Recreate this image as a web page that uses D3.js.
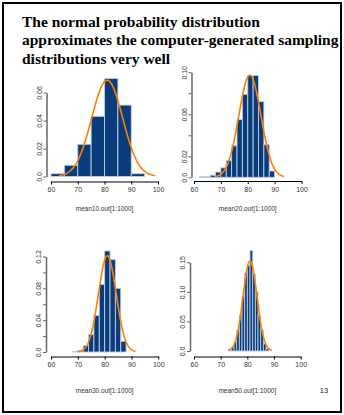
<!DOCTYPE html>
<html>
<head>
<meta charset="utf-8">
<script src="https://cdn.jsdelivr.net/npm/d3@7"></script>
<style>
  body { margin: 0; background: #fff; }
  svg { display: block; }
</style>
</head>
<body>
<svg width="344" height="415"></svg>
<script>
const titleLines = [
  'The normal probability distribution',
  'approximates the computer-generated sampling',
  'distributions very well'
];
const pageNumber = '13';
const xTicks = [60, 70, 80, 90, 100];
const xLabels = ['mean10.out[1:1000]', 'mean20.out[1:1000]', 'mean30.out[1:1000]', 'mean50.out[1:1000]'];

// histogram bin edges and densities
const breaks10 = [60, 65, 70, 75, 80, 85, 90, 95];
const dens10 = [0.002, 0.008, 0.023, 0.043, 0.070, 0.051, 0.002];
const breaks20 = [62, 64, 66, 68, 70, 72, 74, 76, 78, 80, 82, 84, 86, 88, 90];
const dens20 = [0.0005, 0.0005, 0.002, 0.005, 0.009, 0.016, 0.030, 0.055, 0.079, 0.097, 0.097, 0.072, 0.031, 0.006];
const breaks30 = [68, 70, 72, 74, 76, 78, 80, 82, 84, 86, 88];
const dens30 = [0.0005, 0.002, 0.008, 0.022, 0.046, 0.085, 0.127, 0.116, 0.080, 0.0135];
const breaks50 = [73, 74, 75, 76, 77, 78, 79, 80, 81, 82, 83, 84, 85, 86, 87, 88];
const dens50 = [0.002, 0.006, 0.015, 0.035, 0.062, 0.092, 0.132, 0.145, 0.170, 0.130, 0.100, 0.060, 0.035, 0.012, 0.004];

// fitted normal curves (mean, sd, drawn range)
const fitMean = [81, 80.8, 81, 81];
const fitSd = [5.8, 4.1, 3.3, 2.62];
const fitFrom = [63, 68, 70, 72.8];
const fitTo = [99, 93.5, 91.5, 89.2];

// y ticks and the labels R kept
const yTicks10 = [0, 0.02, 0.04, 0.06];
const yLabels10 = ['0.0', '0.02', '0.04', '0.06'];
const yTicks20 = [0, 0.02, 0.04, 0.06, 0.08, 0.10];
const yLabels20 = ['0.0', '0.02', '', '0.06', '', '0.10'];
const yTicks30 = [0, 0.02, 0.04, 0.06, 0.08, 0.10, 0.12];
const yLabels30 = ['0.0', '', '0.04', '', '0.08', '', '0.12'];
const yTicks50 = [0, 0.05, 0.10, 0.15];
const yLabels50 = ['0.0', '0.05', '0.10', '0.15'];

const svg = d3.select('svg');

// slide frame
svg.append('rect')
  .attr('x', 3).attr('y', 3)
  .attr('width', 338).attr('height', 409)
  .attr('fill', 'none').attr('stroke', '#000').attr('stroke-width', 2);

svg.append('g')
  .selectAll('text')
  .data(titleLines)
  .join('text')
  .attr('x', 22)
  .attr('y', (d, i) => 26.5 + i * 18.5)
  .attr('font-family', '"Liberation Serif", "Times New Roman", serif')
  .attr('font-weight', 'bold')
  .attr('font-size', 15.5)
  .text((d) => d);

svg.append('text')
  .attr('x', 324).attr('y', 393)
  .attr('text-anchor', 'middle')
  .attr('font-family', '"Liberation Sans", Arial, sans-serif')
  .attr('font-size', 7.5)
  .attr('fill', '#222')
  .text(pageNumber);

const panels = [
  { breaks: breaks10, dens: dens10, yTicks: yTicks10, yLabels: yLabels10,
    xr: [51, 158], yDom: [0, 0.06], yr: [176.5, 92.5], yAxisX: 46.5, xAxisY: 181.5, labelY: 211 },
  { breaks: breaks20, dens: dens20, yTicks: yTicks20, yLabels: yLabels20,
    xr: [194, 301.5], yDom: [0, 0.10], yr: [177.3, 72.3], yAxisX: 191.5, xAxisY: 181, labelY: 211 },
  { breaks: breaks30, dens: dens30, yTicks: yTicks30, yLabels: yLabels30,
    xr: [51, 158.3], yDom: [0, 0.12], yr: [352, 256.5], yAxisX: 46, xAxisY: 356.5, labelY: 393 },
  { breaks: breaks50, dens: dens50, yTicks: yTicks50, yLabels: yLabels50,
    xr: [194, 300.7], yDom: [0, 0.15], yr: [351, 262.3], yAxisX: 190, xAxisY: 356.5, labelY: 393 }
];

panels.forEach((p, k) => {
  const x = d3.scaleLinear().domain([60, 100]).range(p.xr);
  const y = d3.scaleLinear().domain(p.yDom).range(p.yr);
  const g = svg.append('g');

  const bins = p.dens.map((d, i) => ({ x0: p.breaks[i], x1: p.breaks[i + 1], d }));

  g.append('g')
    .selectAll('rect')
    .data(bins)
    .join('rect')
    .attr('x', (b) => x(b.x0))
    .attr('y', (b) => y(b.d))
    .attr('width', (b) => x(b.x1) - x(b.x0))
    .attr('height', (b) => y(0) - y(b.d))
    .attr('fill', '#0a3c7b')
    .attr('stroke', '#bccfe6')
    .attr('stroke-width', 0.9);

  // normal density curve
  const xs = d3.range(0, 121).map((i) => fitFrom[k] + (fitTo[k] - fitFrom[k]) * i / 120);
  const dnorm = (v) => Math.exp(-0.5 * ((v - fitMean[k]) / fitSd[k]) ** 2) / (fitSd[k] * Math.sqrt(2 * Math.PI));
  g.append('path')
    .datum(xs)
    .attr('fill', 'none')
    .attr('stroke', '#ff8000')
    .attr('stroke-width', 1.6)
    .attr('d', d3.line().x((v) => x(v)).y((v) => y(dnorm(v))));

  // x axis
  const xa = g.append('g')
    .attr('transform', `translate(0,${p.xAxisY})`)
    .call(d3.axisBottom(x).tickValues(xTicks).tickSize(3).tickSizeOuter(0).tickFormat(d3.format('d')));
  xa.select('.domain').attr('stroke', '#000').attr('stroke-width', 1);
  xa.selectAll('.tick line').attr('stroke', '#000');
  xa.selectAll('text')
    .attr('y', 6)
    .attr('font-family', '"Liberation Sans", Arial, sans-serif')
    .attr('font-size', 7)
    .attr('fill', '#333');

  // y axis
  const ya = g.append('g')
    .attr('transform', `translate(${p.yAxisX},0)`)
    .call(d3.axisLeft(y).tickValues(p.yTicks).tickSize(3).tickSizeOuter(0)
      .tickFormat((d, i) => p.yLabels[i]));
  ya.select('.domain').attr('stroke', '#666').attr('stroke-width', 1.5);
  ya.selectAll('.tick line').attr('stroke', '#666');
  ya.selectAll('text')
    .attr('transform', 'rotate(-90)')
    .attr('x', 0).attr('y', -5).attr('dy', 0)
    .attr('text-anchor', 'middle')
    .attr('font-family', '"Liberation Sans", Arial, sans-serif')
    .attr('font-size', 7)
    .attr('fill', '#333');

  g.append('text')
    .attr('x', (p.xr[0] + p.xr[1]) / 2)
    .attr('y', p.labelY)
    .attr('text-anchor', 'middle')
    .attr('font-family', '"Liberation Sans", Arial, sans-serif')
    .attr('font-size', 6.5)
    .attr('fill', '#333')
    .text(xLabels[k]);
});
</script>
</body>
</html>
